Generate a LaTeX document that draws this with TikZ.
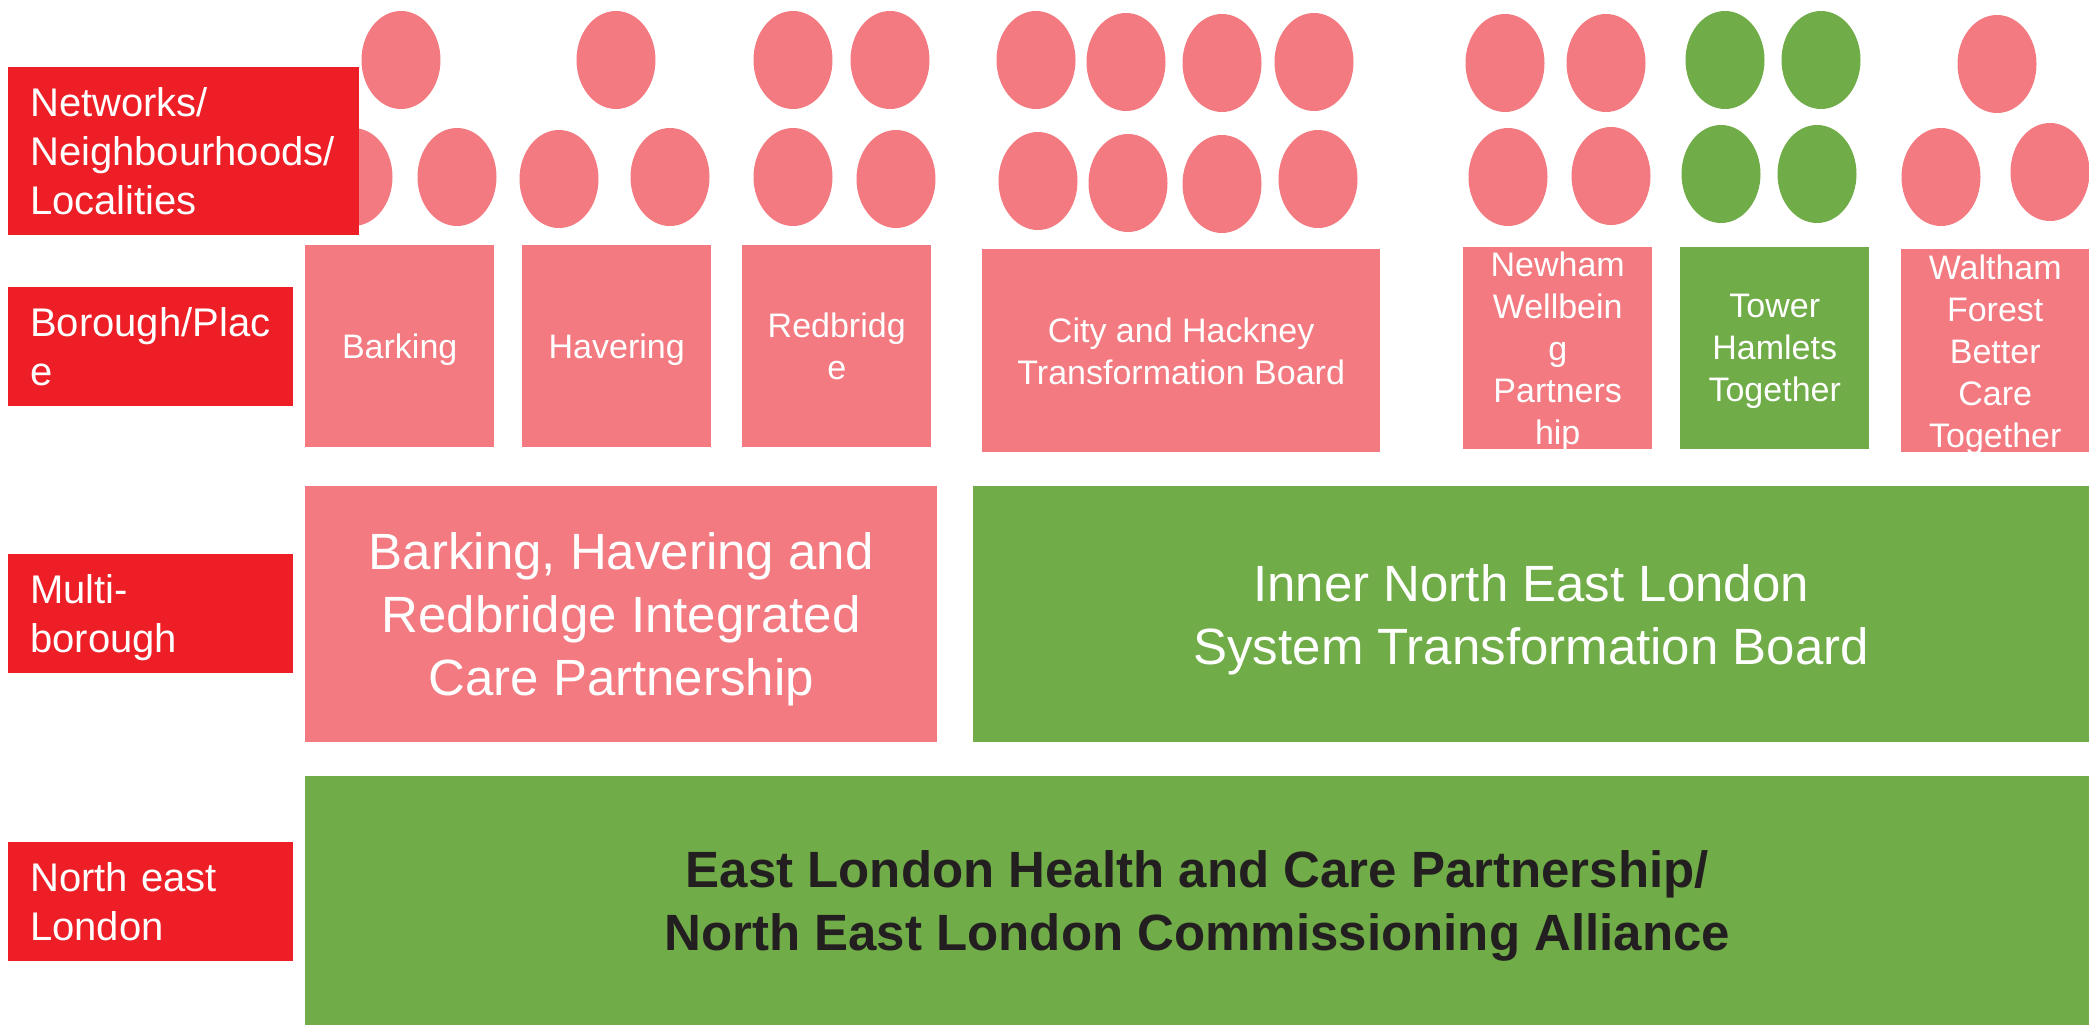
\documentclass[tikz,border=0pt]{standalone}
\usepackage{xcolor}
\usepackage{tikz}
\usepackage{fontspec}
\setmainfont{Liberation Sans}

\definecolor{lvlred}{RGB}{237,30,37}
\definecolor{boxpink}{RGB}{242,122,128}
\definecolor{boxgreen}{RGB}{112,172,71}
\definecolor{darktext}{RGB}{35,31,32}

\tikzset{
	lvl/.style={fill=lvlred, text=white, anchor=north west, align=left, inner xsep=22pt, inner ysep=0pt, text width=241pt, minimum height=119pt, text depth=49pt, font=\fontsize{40}{49}\selectfont},
	pinkbox/.style={fill=boxpink, text=white, anchor=north west, align=center, inner sep=0pt, minimum width=189pt, minimum height=202pt, text depth=0pt, font=\fontsize{34}{42}\selectfont},
	greenbox/.style={pinkbox, fill=boxgreen},
	bigbox/.style={pinkbox, font=\fontsize{51}{63}\selectfont},
	blob/.style={fill=boxpink},
	greenblob/.style={fill=boxgreen},
}

\begin{document}
\begin{tikzpicture}[x=1pt,y=-1pt]
	\useasboundingbox (0,0) rectangle (2089,1025);
	% neighbourhood blobs, top row
	\fill[blob] (401,60) ellipse [x radius=39.5pt, y radius=49pt];
	\fill[blob] (616,60) ellipse [x radius=39.5pt, y radius=49pt];
	\fill[blob] (793,60) ellipse [x radius=39.5pt, y radius=49pt];
	\fill[blob] (890,60) ellipse [x radius=39.5pt, y radius=49pt];
	\fill[blob] (1036,60) ellipse [x radius=39.5pt, y radius=49pt];
	\fill[blob] (1126,62) ellipse [x radius=39.5pt, y radius=49pt];
	\fill[blob] (1222,63) ellipse [x radius=39.5pt, y radius=49pt];
	\fill[blob] (1314,62) ellipse [x radius=39.5pt, y radius=49pt];
	\fill[blob] (1505,63) ellipse [x radius=39.5pt, y radius=49pt];
	\fill[blob] (1606,63) ellipse [x radius=39.5pt, y radius=49pt];
	\fill[greenblob] (1725,60) ellipse [x radius=39.5pt, y radius=49pt];
	\fill[greenblob] (1821,60) ellipse [x radius=39.5pt, y radius=49pt];
	\fill[blob] (1997,64) ellipse [x radius=39.5pt, y radius=49pt];
	% bottom row
	\fill[blob] (353,177) ellipse [x radius=39.5pt, y radius=49pt];
	\fill[blob] (457,177) ellipse [x radius=39.5pt, y radius=49pt];
	\fill[blob] (559,179) ellipse [x radius=39.5pt, y radius=49pt];
	\fill[blob] (670,177) ellipse [x radius=39.5pt, y radius=49pt];
	\fill[blob] (793,177) ellipse [x radius=39.5pt, y radius=49pt];
	\fill[blob] (896,179) ellipse [x radius=39.5pt, y radius=49pt];
	\fill[blob] (1038,181) ellipse [x radius=39.5pt, y radius=49pt];
	\fill[blob] (1128,183) ellipse [x radius=39.5pt, y radius=49pt];
	\fill[blob] (1222,184) ellipse [x radius=39.5pt, y radius=49pt];
	\fill[blob] (1318,179) ellipse [x radius=39.5pt, y radius=49pt];
	\fill[blob] (1508,177) ellipse [x radius=39.5pt, y radius=49pt];
	\fill[blob] (1611,176) ellipse [x radius=39.5pt, y radius=49pt];
	\fill[greenblob] (1721,174) ellipse [x radius=39.5pt, y radius=49pt];
	\fill[greenblob] (1817,174) ellipse [x radius=39.5pt, y radius=49pt];
	\fill[blob] (1941,177) ellipse [x radius=39.5pt, y radius=49pt];
	\fill[blob] (2050,172) ellipse [x radius=39.5pt, y radius=49pt];

	% level labels
	\node[lvl, text width=307pt, minimum height=168pt, text depth=98pt] (netlab) at (8,67) {Networks/\\Neighbourhoods/\\Localities};
	\node[lvl] (borlab) at (8,287) {Borough/Plac\\e};
	\node[lvl] (multilab) at (8,554) {Multi-\\borough};
	\node[lvl] (nelab) at (8,842) {North east\\London};

	% borough boxes
	\node[pinkbox] (barking) at (305,245) {Barking};
	\node[pinkbox] (havering) at (522,245) {Havering};
	\node[pinkbox] (redbridge) at (742,245) {Redbridg\\e};
	\node[pinkbox, minimum width=398pt, minimum height=203pt] (cityhackney) at (982,249) {City and Hackney\\Transformation Board};
	\node[pinkbox] (newham) at (1463,247) {Newham\\Wellbein\\g\\Partners\\hip};
	\node[greenbox] (tower) at (1680,247) {Tower\\Hamlets\\Together};
	\node[pinkbox, minimum width=188pt, minimum height=203pt] (waltham) at (1901,249) {Waltham\\Forest\\Better\\Care\\Together};

	% multi-borough and north east london
	\node[bigbox, minimum width=632pt, minimum height=256pt] (bhr) at (305,486) {Barking, Havering and\\Redbridge Integrated\\Care Partnership};
	\node[bigbox, fill=boxgreen, minimum width=1116pt, minimum height=256pt] (inel) at (973,486) {Inner North East London\\System Transformation Board};
	\node[bigbox, fill=boxgreen, text=darktext, minimum width=1784pt, minimum height=249pt, font=\fontsize{51}{63}\selectfont\bfseries] (elhcp) at (305,776) {East London Health and Care Partnership/\\North East London Commissioning Alliance};
\end{tikzpicture}
\end{document}
